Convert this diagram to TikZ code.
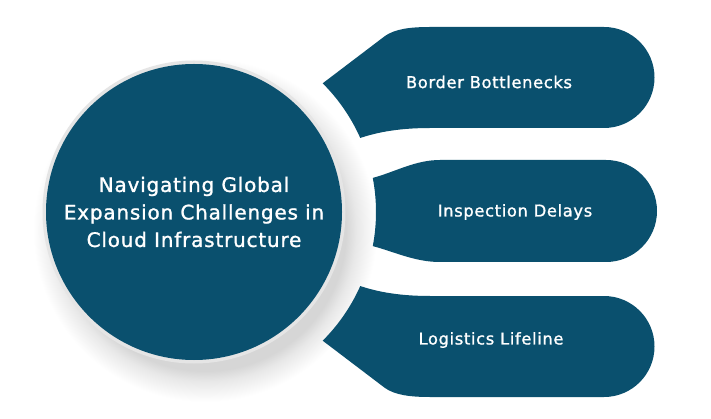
\documentclass[tikz,border=0pt]{standalone}
\usepackage{fontspec}
\usetikzlibrary{calc}
\setmainfont{DejaVu Sans}
\newfontfamily\hubfont{DejaVu Sans}[FakeBold=1.2, LetterSpace=4]
\definecolor{deepteal}{HTML}{0A506E}
\pgfdeclareradialshading{softshadow}{\pgfpoint{0bp}{0bp}}{color(0bp)=(black!16); color(20.5bp)=(black!16); color(22bp)=(black!9); color(25bp)=(white); color(50bp)=(white)}
\tikzset{
  petal/.style={fill=deepteal, draw=none},
  lbl/.style={text=white, font=\hubfont\fontsize{16.3}{18}\selectfont, align=center},
  hub/.style={circle, fill=deepteal, minimum size=296pt, inner sep=0pt, text=white, font=\hubfont\fontsize{20}{27.5}\selectfont, align=center}
}
\begin{document}
\begin{tikzpicture}[x=1pt,y=-1pt]
\useasboundingbox[fill=white] (0,0) rectangle (711,419);
\coordinate (C) at (194,212);
% shadow and ring
\shade[shading=softshadow] (205,230) circle[radius=172];
\fill[black!10] (C) circle[radius=151.5];
\node[hub] (hubnode) at (C) {Navigating Global\\Expansion Challenges in\\Cloud Infrastructure};
% top petal
\path[petal] ($(C)+(-45:182)$) -- (385,36) .. controls (395,29) and (410,27) .. (430,27) -- (604,27)
  arc[start angle=-90, end angle=90, radius=50.5] -- (430,128) .. controls (400,128) and (378,132) .. ($(C)+(-24:182)$)
  arc[start angle=-24, end angle=-45, radius=182] -- cycle;
% middle petal
\path[petal] ($(C)+(10.8:182)$) arc[start angle=10.8, end angle=-10.8, radius=182]
  .. controls (395,172) and (415,160) .. (440,160) -- (606,160)
  arc[start angle=-90, end angle=90, radius=51] -- (440,262) .. controls (415,262) and (395,252) .. cycle;
% bottom petal (mirror of top)
\begin{scope}[shift={(0,424)}, yscale=-1]
\path[petal] ($(C)+(-45:182)$) -- (385,36) .. controls (395,29) and (410,27) .. (430,27) -- (604,27)
  arc[start angle=-90, end angle=90, radius=50.5] -- (430,128) .. controls (400,128) and (378,132) .. ($(C)+(-24:182)$)
  arc[start angle=-24, end angle=-45, radius=182] -- cycle;
\end{scope}
\node[lbl] (b1) at (489,82) {Border Bottlenecks};
\node[lbl] (b2) at (515,212) {Inspection Delays};
\node[lbl] (b3) at (491,340) {Logistics Lifeline};
\end{tikzpicture}
\end{document}
